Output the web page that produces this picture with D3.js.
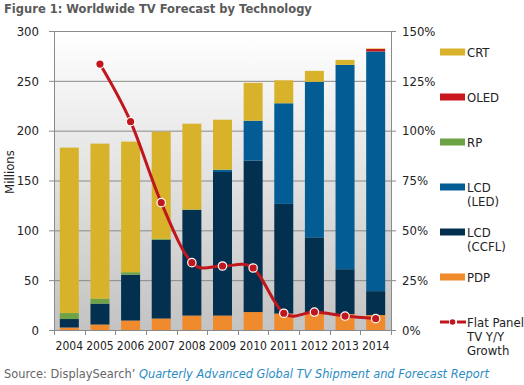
<!DOCTYPE html>
<html>
<head>
<meta charset="utf-8">
<script src="https://cdn.jsdelivr.net/npm/d3@7"></script>
<style>
  body { margin: 0; background: #fff; }
  svg { display: block; font-family: "DejaVu Sans", Verdana, sans-serif; }
  .cond { font-family: "DejaVu Sans Condensed", "DejaVu Sans", Tahoma, sans-serif; }
</style>
</head>
<body>
<div id="chart"></div>
<script>
// values (millions of units)
const years = ["2004", "2005", "2006", "2007", "2008", "2009", "2010", "2011", "2012", "2013", "2014"];
const pdp = [2.5, 5.5, 9.5, 11.5, 14.5, 14.5, 18, 16.5, 17, 16, 15];
const ccfl = [8.5, 21, 46, 79, 106, 144, 152, 110, 76, 45, 24];
const led = [0, 0, 0, 0, 0, 2, 40, 101, 156, 205, 240.5];
const rp = [6, 5, 2.5, 1, 0.5, 0.5, 0, 0, 0, 0, 0];
const oled = [0, 0, 0, 0, 0, 0, 0, 0, 0, 0, 2.5];
const crt = [166, 155.5, 131, 107.5, 86, 50, 38, 23, 11, 5, 0.5];
// flat panel y/y growth, percent
const growth = [null, 133.4, 104.5, 63.9, 33.8, 32.1, 31.1, 8.4, 9.0, 7.0, 5.7];

const leftTicks = [0, 50, 100, 150, 200, 250, 300];
const rightTicks = [0, 25, 50, 75, 100, 125, 150];

const series = [
	{ key: "pdp", label: ["PDP"], color: "#ef8a2d", values: pdp },
	{ key: "ccfl", label: ["LCD", "(CCFL)"], color: "#04304f", values: ccfl },
	{ key: "led", label: ["LCD", "(LED)"], color: "#035d94", values: led },
	{ key: "rp", label: ["RP"], color: "#6da344", values: rp },
	{ key: "oled", label: ["OLED"], color: "#c9171e", values: oled },
	{ key: "crt", label: ["CRT"], color: "#d8b22a", values: crt }
];

const W = 524, H = 385;
const margin = { top: 31, right: 133, bottom: 55, left: 54 };
const width = W - margin.left - margin.right;
const height = H - margin.top - margin.bottom;

const svg = d3.select("#chart").append("svg").attr("width", W).attr("height", H);

// background gradient
const grad = svg.append("defs").append("linearGradient")
	.attr("id", "bg").attr("x1", 0).attr("y1", 0).attr("x2", 0).attr("y2", 1);
grad.append("stop").attr("offset", "0%").attr("stop-color", "#ffffff");
grad.append("stop").attr("offset", "100%").attr("stop-color", "#c3c3c3");

const g = svg.append("g").attr("transform", `translate(${margin.left},${margin.top})`);

g.append("rect").attr("width", width).attr("height", height).attr("fill", "url(#bg)");

// scales
const x = d3.scaleBand().domain(years).range([0, width]).paddingInner(0.38).paddingOuter(0.19);
const y = d3.scaleLinear().domain([0, 300]).range([height, 0]);
const y2 = d3.scaleLinear().domain([0, 150]).range([height, 0]);

// gridlines
g.selectAll(".grid")
	.data(leftTicks.slice(1))
	.enter()
	.append("line")
	.attr("x1", 0).attr("x2", width)
	.attr("y1", d => y(d) + 0.5).attr("y2", d => y(d) + 0.5)
	.attr("stroke", "#8a8a8a").attr("stroke-width", 1);

// stacked bars
const table = years.map((yr, i) => {
	const row = { year: yr };
	series.forEach(s => { row[s.key] = s.values[i]; });
	return row;
});
const stack = d3.stack().keys(series.map(s => s.key))(table);

g.selectAll(".layer")
	.data(stack)
	.enter()
	.append("g")
	.attr("fill", (d, i) => series[i].color)
	.selectAll("rect")
	.data(d => d)
	.enter()
	.append("rect")
	.attr("x", d => x(d.data.year))
	.attr("width", x.bandwidth())
	.attr("y", d => y(d[1]))
	.attr("height", d => Math.max(0, y(d[0]) - y(d[1])));

// axes
const axisColor = "#8a8a8a";

const xAxis = g.append("g")
	.attr("transform", `translate(0,${height})`)
	.call(d3.axisBottom(x).tickSize(0).tickPadding(11));
xAxis.select(".domain").attr("stroke", axisColor);
xAxis.selectAll("text").attr("class", "cond").style("font-size", "12px").attr("fill", "#222");

// tick marks between categories
const step = x.step();
g.selectAll(".xtick")
	.data(d3.range(years.length + 1))
	.enter()
	.append("line")
	.attr("x1", d => Math.round(d * step) + 0.5).attr("x2", d => Math.round(d * step) + 0.5)
	.attr("y1", height).attr("y2", height + 5)
	.attr("stroke", axisColor);

const yAxis = g.append("g")
	.call(d3.axisLeft(y).tickValues(leftTicks).tickSize(5).tickPadding(10));
yAxis.selectAll("path, line").attr("stroke", axisColor);
yAxis.selectAll("text").attr("class", "cond").style("font-size", "13px").attr("fill", "#222");

const yAxis2 = g.append("g")
	.attr("transform", `translate(${width},0)`)
	.call(d3.axisRight(y2).tickValues(rightTicks).tickSize(5).tickPadding(6).tickFormat(d => d + "%"));
yAxis2.selectAll("path, line").attr("stroke", axisColor);
yAxis2.selectAll("text").attr("class", "cond").style("font-size", "13px").attr("fill", "#222");

g.append("text")
	.attr("class", "cond")
	.attr("transform", "rotate(-90)")
	.attr("x", -(172 - margin.top))
	.attr("y", -margin.left + 14)
	.attr("text-anchor", "middle")
	.style("font-size", "13px")
	.attr("fill", "#222")
	.text("Millions");

// growth line
const pts = years.map((yr, i) => ({ year: yr, v: growth[i] })).filter(d => d.v != null);
const line = d3.line()
	.x(d => x(d.year) + x.bandwidth() / 2)
	.y(d => y2(d.v))
	.curve(d3.curveCatmullRom.alpha(0));

g.append("path")
	.datum(pts)
	.attr("d", line)
	.attr("fill", "none")
	.attr("stroke", "#c0161d")
	.attr("stroke-width", 3);

g.selectAll(".dot")
	.data(pts)
	.enter()
	.append("circle")
	.attr("cx", d => x(d.year) + x.bandwidth() / 2)
	.attr("cy", d => y2(d.v))
	.attr("r", 4.2)
	.attr("fill", "#c0161d")
	.attr("stroke", "#fff")
	.attr("stroke-width", 1.2);

// legend
const legend = svg.append("g").attr("transform", "translate(440,52)");
const legendItems = series.slice().reverse();
legendItems.forEach((s, i) => {
	const li = legend.append("g").attr("transform", `translate(0,${i * 45})`);
	li.append("rect").attr("x", 0).attr("y", -3.5).attr("width", 25).attr("height", 7).attr("fill", s.color);
	s.label.forEach((t, j) => {
		li.append("text")
			.attr("class", "cond")
			.attr("x", 27).attr("y", j * 14 + 4.5)
			.style("font-size", "13px").attr("fill", "#222")
			.text(t);
	});
});
const lineItem = legend.append("g").attr("transform", `translate(0,${6 * 45})`);
lineItem.append("line").attr("x1", 0).attr("x2", 26).attr("stroke", "#c0161d").attr("stroke-width", 3)
	.attr("stroke-dasharray", "9,2,4,2,9");
lineItem.append("circle").attr("cx", 12.5).attr("cy", 0).attr("r", 2.8).attr("fill", "#c0161d");
["Flat Panel", "TV Y/Y", "Growth"].forEach((t, j) => {
	lineItem.append("text")
		.attr("class", "cond")
		.attr("x", 27).attr("y", j * 14 + 4.5)
		.style("font-size", "13px").attr("fill", "#222")
		.text(t);
});

// title
svg.append("text")
	.attr("x", 4).attr("y", 13)
	.style("font-size", "11.5px")
	.style("font-weight", 700)
	.attr("fill", "#5a5a5a")
	.text("Figure 1: Worldwide TV Forecast by Technology");

// source
const src = svg.append("text")
	.attr("x", 4).attr("y", 378)
	.style("font-size", "11.4px");
src.append("tspan").attr("fill", "#666").text("Source: DisplaySearch\u2019 ");
src.append("tspan").attr("fill", "#2b8cc4").style("font-style", "italic")
	.text("Quarterly Advanced Global TV Shipment and Forecast Report");
</script>
</body>
</html>
